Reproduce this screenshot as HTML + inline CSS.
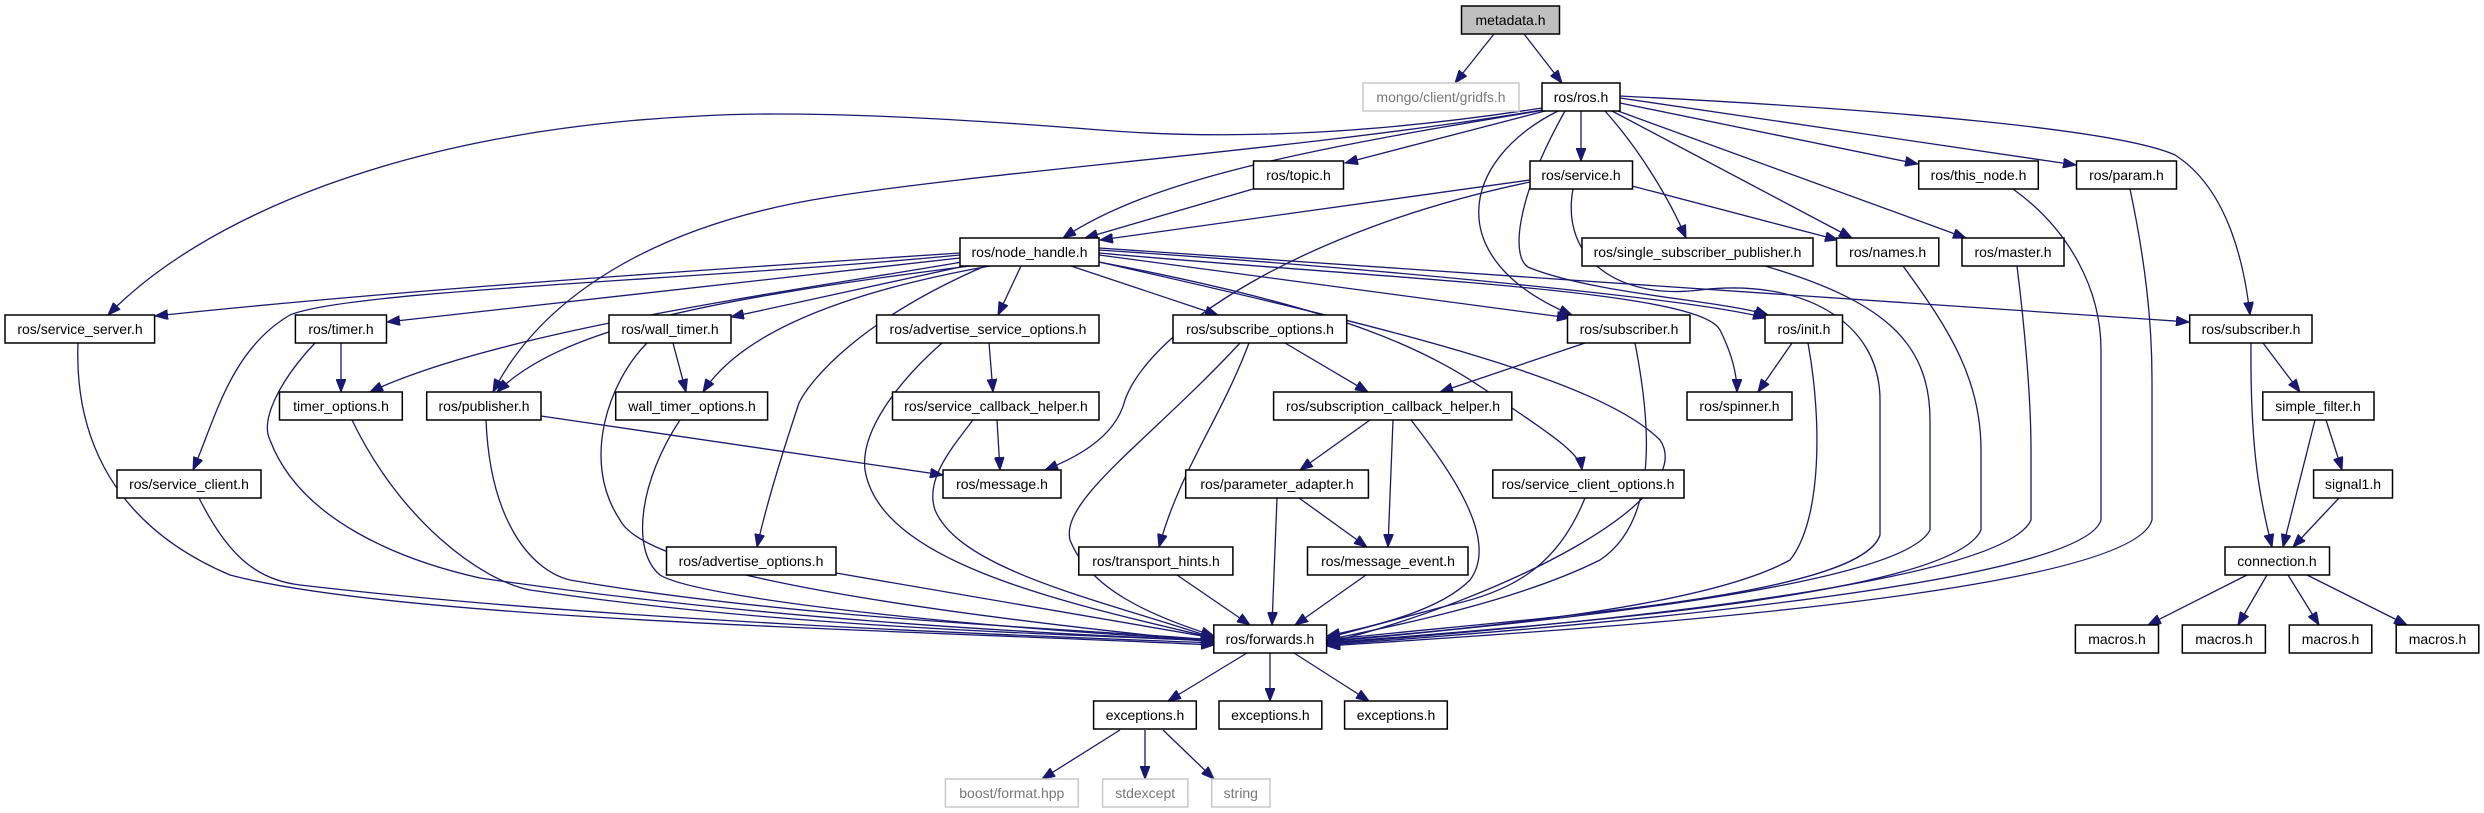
<!DOCTYPE html>
<html><head><meta charset="utf-8"><style>
html,body{margin:0;padding:0;background:#fff;}
svg{display:block;}
text{font-family:"Liberation Sans",sans-serif;font-size:14px;text-anchor:middle;fill:#000;}
.b{fill:#fff;stroke:#000;stroke-width:1.5;}
.g{fill:#fff;stroke:#c8c8c8;stroke-width:1.5;}
.gt{fill:#777;}
.e{fill:none;stroke:#191970;stroke-width:1.3;}
</style></head><body>
<svg width="2484" height="813" viewBox="0 0 2484 813" xmlns="http://www.w3.org/2000/svg">
<defs><marker id="a" markerUnits="userSpaceOnUse" markerWidth="14" markerHeight="10" refX="13" refY="5" orient="auto"><path d="M0,0 L13,5 L0,10 z" fill="#191970" stroke="#191970"/></marker></defs>
<g marker-end="url(#a)" class="e">
<path d="M1494,34 L1455,83"/>
<path d="M1524,34 L1562,83"/>
<path d="M1542,108 C1400,130 1250,142 1100,130 C950,118 800,110 700,116 C400,130 200,220 108,315"/>
<path d="M1542,110 C1300,150 1000,170 830,197 C650,225 540,300 493,392"/>
<path d="M1545,110 C1300,150 1150,180 1063,238"/>
<path d="M1545,111 L1345,163"/>
<path d="M1581,111 L1581,161"/>
<path d="M1605,111 C1640,150 1670,200 1686,238"/>
<path d="M1612,111 L1852,238"/>
<path d="M1618,111 L1966,238"/>
<path d="M1620,103 L1918,164"/>
<path d="M1620,98 L2076,165"/>
<path d="M1620,96 C1900,110 2120,130 2175,155 C2230,190 2245,270 2250,315"/>
<path d="M1558,111 C1460,160 1440,260 1572,315"/>
<path d="M1565,111 C1515,200 1510,260 1530,268 C1600,295 1720,300 1768,315"/>
<path d="M1530,180 L1100,240"/>
<path d="M1530,182 C1300,230 1150,330 1125,400 C1115,440 1070,460 1045,470"/>
<path d="M1632,186 L1838,240"/>
<path d="M1573,189 C1560,260 1620,300 1700,290 C1800,278 1880,320 1880,400 L1880,535 C1860,600 1500,620 1327,640"/>
<path d="M1253,189 L1085,238"/>
<path d="M960,253 C700,270 400,290 155,316"/>
<path d="M960,258 L387,322"/>
<path d="M965,266 L731,317"/>
<path d="M962,262 C800,290 500,330 370,392"/>
<path d="M970,266 C700,300 560,330 497,392"/>
<path d="M990,266 C800,300 730,350 703,392"/>
<path d="M960,255 C700,280 350,290 290,315 C230,350 215,420 193,470"/>
<path d="M985,266 C860,320 810,380 799,403 C780,460 765,510 757,547"/>
<path d="M1021,266 L998,315"/>
<path d="M1071,266 L1218,315"/>
<path d="M1099,255 L1570,318"/>
<path d="M1099,250 C1400,270 1700,300 1766,318"/>
<path d="M1099,253 C1400,280 1700,290 1720,330 C1735,360 1737,380 1737,392"/>
<path d="M1099,248 C1500,275 1900,300 2189,322"/>
<path d="M1099,262 C1350,310 1430,350 1500,400 C1560,440 1580,455 1582,470"/>
<path d="M1099,262 C1400,330 1600,380 1660,440 C1700,500 1500,600 1327,643"/>
<path d="M541,416 L943,475"/>
<path d="M486,420 C490,520 530,570 570,580 C800,620 1100,630 1214,640"/>
<path d="M341,343 L341,392"/>
<path d="M315,343 C280,380 260,420 270,440 C300,520 400,560 480,578 C800,625 1100,635 1214,641"/>
<path d="M352,420 C400,520 480,580 530,590 C800,630 1100,635 1214,641"/>
<path d="M673,343 L686,392"/>
<path d="M647,343 C610,380 580,460 620,520 C640,560 800,600 1214,642"/>
<path d="M680,420 C640,480 630,550 660,575 C700,600 1000,630 1214,640"/>
<path d="M78,343 C75,420 100,520 230,575 C400,620 900,630 1214,645"/>
<path d="M199,498 C230,560 260,580 300,585 C600,620 1000,635 1214,643"/>
<path d="M836,573 L1214,638"/>
<path d="M989,343 L993,392"/>
<path d="M942,343 C900,380 860,430 865,470 C880,560 1050,600 1214,638"/>
<path d="M997,420 L1000,470"/>
<path d="M973,420 C950,450 925,480 935,510 C960,570 1100,600 1214,638"/>
<path d="M1285,343 L1368,392"/>
<path d="M1249,343 C1220,420 1180,470 1159,547"/>
<path d="M1240,343 C1150,440 1060,500 1070,540 C1090,590 1150,615 1214,636"/>
<path d="M1585,343 L1440,392"/>
<path d="M1635,343 C1650,420 1660,520 1600,560 C1520,600 1400,625 1327,640"/>
<path d="M1370,420 L1300,470"/>
<path d="M1393,420 L1388,547"/>
<path d="M1411,420 C1450,470 1500,540 1470,580 C1440,610 1380,625 1327,636"/>
<path d="M1277,498 L1272,625"/>
<path d="M1299,498 L1367,547"/>
<path d="M1177,575 L1250,625"/>
<path d="M1366,575 L1295,625"/>
<path d="M1585,498 C1560,560 1520,590 1450,605 L1327,638"/>
<path d="M1792,343 L1758,392"/>
<path d="M1808,343 C1822,420 1822,520 1790,560 C1700,610 1450,630 1327,641"/>
<path d="M1765,266 C1880,300 1930,340 1930,420 L1930,530 C1900,590 1500,625 1327,642"/>
<path d="M1903,266 C1950,330 1981,380 1981,450 L1981,530 C1950,600 1500,628 1327,643"/>
<path d="M2017,266 C2025,330 2031,400 2031,450 L2031,520 C2000,590 1500,630 1327,644"/>
<path d="M2013,189 C2070,230 2101,290 2101,350 L2101,520 C2080,590 1500,632 1327,645"/>
<path d="M2130,189 C2145,260 2152,320 2152,380 L2152,520 C2130,600 1500,634 1327,646"/>
<path d="M2263,343 L2300,392"/>
<path d="M2251,343 C2250,450 2260,500 2272,547"/>
<path d="M2326,420 L2342,470"/>
<path d="M2315,420 L2283,547"/>
<path d="M2339,498 L2293,547"/>
<path d="M2247,575 L2148,625"/>
<path d="M2267,575 L2238,625"/>
<path d="M2288,575 L2319,625"/>
<path d="M2307,575 L2407,625"/>
<path d="M1247,653 L1168,701"/>
<path d="M1270,653 L1270,701"/>
<path d="M1294,653 L1369,701"/>
<path d="M1120,730 L1042,779"/>
<path d="M1145,730 L1145,779"/>
<path d="M1163,730 L1214,779"/>
</g>
<rect x="1461.5" y="6" width="98" height="28" fill="#bfbfbf" stroke="#000" stroke-width="1.5"/><text x="1510.5" y="25">metadata.h</text>
<rect class="g" x="1363" y="83" width="156" height="28"/><text class="gt" x="1441" y="102">mongo/client/gridfs.h</text>
<rect class="b" x="1542" y="83" width="78" height="28"/><text x="1581" y="102">ros/ros.h</text>
<rect class="b" x="1253.5" y="161" width="90" height="28"/><text x="1298.5" y="180">ros/topic.h</text>
<rect class="b" x="1530" y="161" width="102.5" height="28"/><text x="1581" y="180">ros/service.h</text>
<rect class="b" x="1918.7" y="161" width="119.6" height="28"/><text x="1978.5" y="180">ros/this_node.h</text>
<rect class="b" x="2076.5" y="161" width="100" height="28"/><text x="2126.5" y="180">ros/param.h</text>
<rect class="b" x="960" y="238" width="139" height="28"/><text x="1029.5" y="257">ros/node_handle.h</text>
<rect class="b" x="1582" y="238" width="231" height="28"/><text x="1697.5" y="257">ros/single_subscriber_publisher.h</text>
<rect class="b" x="1836.6" y="238" width="102.2" height="28"/><text x="1887.7" y="257">ros/names.h</text>
<rect class="b" x="1962" y="238" width="102" height="28"/><text x="2013" y="257">ros/master.h</text>
<rect class="b" x="5" y="315" width="149.6" height="28"/><text x="80" y="334">ros/service_server.h</text>
<rect class="b" x="295.4" y="315" width="91.1" height="28"/><text x="341" y="334">ros/timer.h</text>
<rect class="b" x="609" y="315" width="122" height="28"/><text x="670" y="334">ros/wall_timer.h</text>
<rect class="b" x="876.6" y="315" width="222.4" height="28"/><text x="988" y="334">ros/advertise_service_options.h</text>
<rect class="b" x="1173" y="315" width="173.7" height="28"/><text x="1260" y="334">ros/subscribe_options.h</text>
<rect class="b" x="1567.5" y="315" width="122.5" height="28"/><text x="1629" y="334">ros/subscriber.h</text>
<rect class="b" x="1765" y="315" width="77.5" height="28"/><text x="1804" y="334">ros/init.h</text>
<rect class="b" x="2189.7" y="315" width="122.3" height="28"/><text x="2251" y="334">ros/subscriber.h</text>
<rect class="b" x="279.5" y="392" width="122.8" height="28"/><text x="341" y="411">timer_options.h</text>
<rect class="b" x="426.7" y="392" width="114.3" height="28"/><text x="484" y="411">ros/publisher.h</text>
<rect class="b" x="615.7" y="392" width="151.9" height="28"/><text x="692" y="411">wall_timer_options.h</text>
<rect class="b" x="892.5" y="392" width="206.5" height="28"/><text x="996" y="411">ros/service_callback_helper.h</text>
<rect class="b" x="1273.6" y="392" width="238.2" height="28"/><text x="1393" y="411">ros/subscription_callback_helper.h</text>
<rect class="b" x="1687" y="392" width="105" height="28"/><text x="1739.5" y="411">ros/spinner.h</text>
<rect class="b" x="2262.8" y="392" width="111.2" height="28"/><text x="2318" y="411">simple_filter.h</text>
<rect class="b" x="117" y="470" width="144" height="28"/><text x="189" y="489">ros/service_client.h</text>
<rect class="b" x="943" y="470" width="118" height="28"/><text x="1002" y="489">ros/message.h</text>
<rect class="b" x="1185.7" y="470" width="182.7" height="28"/><text x="1277" y="489">ros/parameter_adapter.h</text>
<rect class="b" x="1492.8" y="470" width="191.2" height="28"/><text x="1588" y="489">ros/service_client_options.h</text>
<rect class="b" x="2313.6" y="470" width="78.9" height="28"/><text x="2353" y="489">signal1.h</text>
<rect class="b" x="666.5" y="547" width="169.5" height="28"/><text x="751" y="566">ros/advertise_options.h</text>
<rect class="b" x="1078.8" y="547" width="154.1" height="28"/><text x="1156" y="566">ros/transport_hints.h</text>
<rect class="b" x="1307.5" y="547" width="160.5" height="28"/><text x="1388" y="566">ros/message_event.h</text>
<rect class="b" x="2225" y="547" width="104.5" height="28"/><text x="2277" y="566">connection.h</text>
<rect class="b" x="1213.8" y="625" width="112.8" height="28"/><text x="1270" y="644">ros/forwards.h</text>
<rect class="b" x="2075.4" y="625" width="83.1" height="28"/><text x="2117" y="644">macros.h</text>
<rect class="b" x="2182.3" y="625" width="83.1" height="28"/><text x="2224" y="644">macros.h</text>
<rect class="b" x="2289.3" y="625" width="82.5" height="28"/><text x="2330.5" y="644">macros.h</text>
<rect class="b" x="2396.2" y="625" width="82.6" height="28"/><text x="2437.5" y="644">macros.h</text>
<rect class="b" x="1093.6" y="701" width="102.7" height="28"/><text x="1145" y="720">exceptions.h</text>
<rect class="b" x="1219" y="701" width="102.8" height="28"/><text x="1270.4" y="720">exceptions.h</text>
<rect class="b" x="1344.6" y="701" width="102.7" height="28"/><text x="1396" y="720">exceptions.h</text>
<rect class="g" x="945.4" y="779" width="132.9" height="28"/><text class="gt" x="1011.8" y="798">boost/format.hpp</text>
<rect class="g" x="1102.6" y="779" width="85.3" height="28"/><text class="gt" x="1145.2" y="798">stdexcept</text>
<rect class="g" x="1211.7" y="779" width="58.3" height="28"/><text class="gt" x="1240.8" y="798">string</text>
</svg>
</body></html>
